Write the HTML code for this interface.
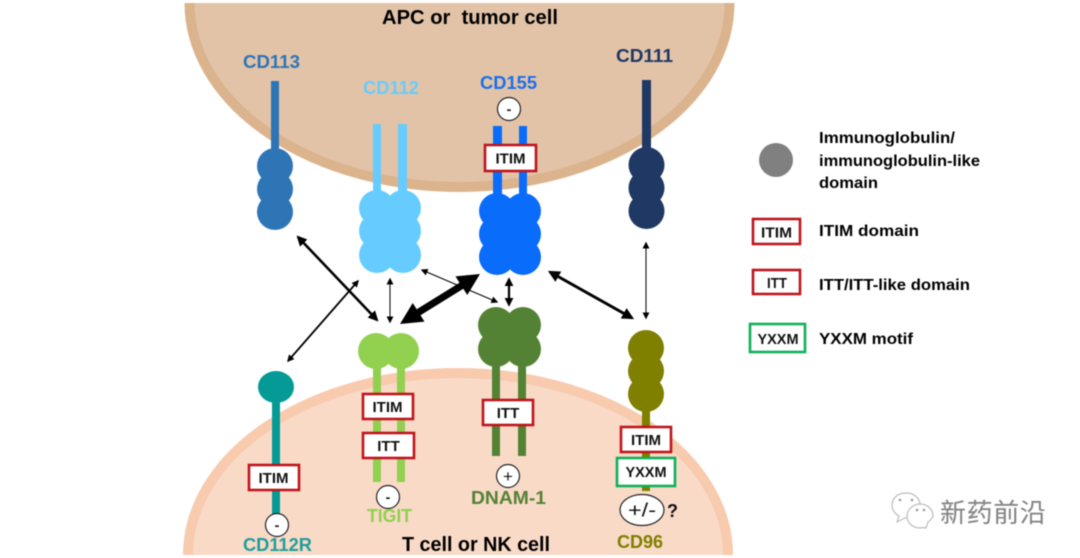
<!DOCTYPE html>
<html lang="en">
<head>
<meta charset="utf-8">
<title>TIGIT / CD96 / DNAM-1 diagram</title>
<style>
html,body{margin:0;padding:0;background:#fff;width:1080px;height:558px;overflow:hidden}
svg{display:block;overflow:hidden;filter:blur(.45px)}
text{font-family:"Liberation Sans","Noto Sans CJK SC",sans-serif;font-weight:700}
.box{fill:#fff;stroke:#C0141C;stroke-width:2.6}
.gbox{fill:#fff;stroke:#10B058;stroke-width:2.6}
.bt{font-size:15px;fill:#111;text-anchor:middle}
.sign{fill:#fff;stroke:#222;stroke-width:1.2}
.lg{font-size:16px;fill:#000}
.lab{font-size:18px}
.title{font-size:20.5px;fill:#000}
</style>
</head>
<body>
<svg width="1080" height="558" viewBox="0 0 1080 558" xmlns="http://www.w3.org/2000/svg">
<defs>
<marker id="a" viewBox="0 0 10 10" refX="8" refY="5" markerWidth="4" markerHeight="4" orient="auto-start-reverse" markerUnits="strokeWidth"><path d="M0,0L10,5L0,10z" fill="#000"/></marker>
<marker id="t" viewBox="0 0 10 10" refX="8" refY="5" markerWidth="7" markerHeight="7" orient="auto-start-reverse" markerUnits="strokeWidth"><path d="M0,0L10,5L0,10z" fill="#000"/></marker>
</defs>

<!-- cells -->
<path d="M189.5,3 A270,184 0 0 0 729.5,3 Z" fill="#E2C3A8"/>
<path d="M189.5,3 A270,184 0 0 0 729.5,3" fill="none" stroke="#DBB48E" stroke-width="10"/>
<path d="M188,555 A270,182 0 0 1 728,555 Z" fill="#F9DAC7"/>
<path d="M188,555 A270,182 0 0 1 728,555" fill="none" stroke="#F8CAAE" stroke-width="10"/>

<!-- CD113 -->
<g fill="#2E75B6">
  <rect x="271" y="81" width="8" height="72"/>
  <circle cx="275" cy="166" r="18"/><circle cx="275" cy="189" r="18"/><circle cx="275" cy="212" r="18"/>
</g>
<!-- CD112 -->
<g fill="#66CCFF">
  <rect x="373" y="124" width="8" height="72"/><rect x="398" y="124" width="9" height="72"/>
  <circle cx="377" cy="208" r="18"/><circle cx="377" cy="231" r="18"/><circle cx="377" cy="255" r="18"/>
  <circle cx="403" cy="208" r="18"/><circle cx="403" cy="231" r="18"/><circle cx="403" cy="255" r="18"/>
</g>
<!-- CD155 -->
<g fill="#0A6CFA">
  <rect x="493" y="126" width="9" height="72"/><rect x="519" y="126" width="8" height="72"/>
  <circle cx="497" cy="211" r="18"/><circle cx="497" cy="234" r="18"/><circle cx="497" cy="257" r="18"/>
  <circle cx="523" cy="211" r="18"/><circle cx="523" cy="234" r="18"/><circle cx="523" cy="257" r="18"/>
</g>
<rect class="box" x="485" y="145" width="51" height="26"/>
<text class="bt" x="510.5" y="163.500">ITIM</text>
<circle class="sign" cx="509" cy="109" r="11.5"/>
<text x="509" y="114" text-anchor="middle" font-size="14" fill="#111">-</text>
<!-- CD111 -->
<g fill="#1F3864">
  <rect x="642" y="80" width="9" height="72"/>
  <circle cx="646.5" cy="165" r="18"/><circle cx="646.5" cy="188" r="18"/><circle cx="646.5" cy="211" r="18"/>
</g>

<!-- CD112R -->
<g fill="#059A96">
  <ellipse cx="276" cy="387" rx="18" ry="16"/>
  <rect x="272" y="395" width="8" height="119"/>
</g>
<rect class="box" x="249" y="465" width="50" height="25"/>
<text class="bt" x="273.5" y="483">ITIM</text>
<circle class="sign" cx="277" cy="525" r="11.5"/>
<text x="277" y="530" text-anchor="middle" font-size="14" fill="#111">-</text>

<!-- TIGIT -->
<g fill="#92D050">
  <rect x="373" y="360" width="8" height="122"/><rect x="397" y="360" width="8" height="122"/>
  <circle cx="376" cy="351" r="18"/><circle cx="401" cy="351" r="18"/>
</g>
<rect class="box" x="363" y="394" width="50" height="25"/>
<text class="bt" x="387.5" y="412">ITIM</text>
<rect class="box" x="363" y="433" width="51" height="25"/>
<text class="bt" x="388.5" y="451">ITT</text>
<circle class="sign" cx="388" cy="497" r="11.5"/>
<text x="388" y="502" text-anchor="middle" font-size="14" fill="#111">-</text>

<!-- DNAM-1 -->
<g fill="#548235">
  <rect x="492" y="355" width="8" height="101"/><rect x="518" y="355" width="8" height="101"/>
  <circle cx="496" cy="325" r="18"/><circle cx="496" cy="349" r="18"/>
  <circle cx="523" cy="325" r="18"/><circle cx="523" cy="349" r="18"/>
</g>
<rect class="box" x="483" y="400" width="50" height="25"/>
<text class="bt" x="508" y="418">ITT</text>
<circle class="sign" cx="508" cy="476" r="11.5"/>
<text x="508" y="482" text-anchor="middle" font-size="17" style="font-weight:400" fill="#111">+</text>

<!-- CD96 -->
<g fill="#7F7F00">
  <rect x="642" y="400" width="8" height="91"/>
  <circle cx="646" cy="348" r="18"/><circle cx="646" cy="371" r="18"/><circle cx="646" cy="394" r="18"/>
</g>
<rect class="box" x="621" y="427" width="50" height="25"/>
<text class="bt" x="646" y="445">ITIM</text>
<rect class="gbox" x="617" y="458" width="58" height="28"/>
<text class="bt" x="646" y="477" textLength="41" lengthAdjust="spacingAndGlyphs">YXXM</text>
<ellipse class="sign" cx="642" cy="510" rx="22" ry="15.5"/>
<text x="642" y="516.500" text-anchor="middle" font-size="19" style="font-weight:400" fill="#111" textLength="28" lengthAdjust="spacingAndGlyphs">+/-</text>
<text x="667" y="517" font-size="18" fill="#111">?</text>

<!-- connectors -->
<g stroke="#000" fill="none">
  <line x1="298" y1="237" x2="377" y2="320" stroke-width="2.6" marker-start="url(#a)" marker-end="url(#a)"/>
  <line x1="288" y1="361" x2="358" y2="281" stroke-width="1.8" marker-start="url(#a)" marker-end="url(#a)"/>
  <line x1="390" y1="279" x2="390" y2="322" stroke-width="1" marker-start="url(#t)" marker-end="url(#t)"/>
  <line x1="422" y1="270" x2="497" y2="302" stroke-width="1" marker-start="url(#t)" marker-end="url(#t)"/>
  <line x1="509" y1="279" x2="509" y2="305" stroke-width="2.2" marker-start="url(#a)" marker-end="url(#a)"/>
  <line x1="550" y1="272" x2="632" y2="318" stroke-width="3" marker-start="url(#a)" marker-end="url(#a)"/>
  <line x1="646" y1="243" x2="646" y2="318" stroke-width="1" marker-start="url(#t)" marker-end="url(#t)"/>
</g>
<polygon fill="#000" points="400,324 412.7,303 416.7,309.3 459.5,282.7 455.5,276.4 480,274 467.3,295 463.3,288.7 420.5,315.3 424.5,321.6"/>

<!-- labels -->
<text class="title" x="382" y="24" textLength="176" lengthAdjust="spacingAndGlyphs" xml:space="preserve">APC or  tumor cell</text>
<text class="title" x="402" y="551" textLength="148" lengthAdjust="spacingAndGlyphs">T cell or NK cell</text>
<text class="lab" x="243" y="68" fill="#2E75B6" textLength="57" lengthAdjust="spacingAndGlyphs">CD113</text>
<text class="lab" x="363" y="94" fill="#66CCFF" textLength="56" lengthAdjust="spacingAndGlyphs">CD112</text>
<text class="lab" x="480" y="89" fill="#1A70EA" textLength="57" lengthAdjust="spacingAndGlyphs">CD155</text>
<text class="lab" x="616" y="62" fill="#1F3864" textLength="57" lengthAdjust="spacingAndGlyphs">CD111</text>
<text class="lab" x="243" y="551" fill="#1E9F9B" textLength="69" lengthAdjust="spacingAndGlyphs">CD112R</text>
<text class="lab" x="367" y="522" fill="#92D050" textLength="45" lengthAdjust="spacingAndGlyphs">TIGIT</text>
<text class="lab" x="471" y="504" fill="#548235" textLength="75" lengthAdjust="spacingAndGlyphs">DNAM-1</text>
<text class="lab" x="617" y="548" fill="#7F7F00" textLength="46" lengthAdjust="spacingAndGlyphs">CD96</text>

<!-- legend -->
<circle cx="776" cy="160" r="17" fill="#808080"/>
<text class="lg" x="819" y="143" textLength="136" lengthAdjust="spacingAndGlyphs">Immunoglobulin/</text>
<text class="lg" x="819" y="166" textLength="161" lengthAdjust="spacingAndGlyphs">immunoglobulin-like</text>
<text class="lg" x="819" y="188" textLength="59" lengthAdjust="spacingAndGlyphs">domain</text>
<rect class="box" x="753" y="219" width="47" height="25"/>
<text class="bt" x="776.5" y="237.500" textLength="31" lengthAdjust="spacingAndGlyphs">ITIM</text>
<text class="lg" x="819" y="236" textLength="100" lengthAdjust="spacingAndGlyphs">ITIM domain</text>
<rect class="box" x="753" y="270" width="47" height="24"/>
<text class="bt" x="777" y="288" textLength="20" lengthAdjust="spacingAndGlyphs">ITT</text>
<text class="lg" x="819" y="290" textLength="151" lengthAdjust="spacingAndGlyphs">ITT/ITT-like domain</text>
<rect class="gbox" x="750" y="324" width="55" height="28"/>
<text class="bt" x="778" y="344" textLength="41" lengthAdjust="spacingAndGlyphs">YXXM</text>
<text class="lg" x="819" y="344" textLength="94" lengthAdjust="spacingAndGlyphs">YXXM motif</text>

<!-- watermark -->
<g fill="#fff" stroke="#BDBDBD" stroke-width="1.2">
  <path d="M899,516 L897,522 L905,518 C914,518 920,512 920,505 C920,498 914,493 906,493 C898,493 892,498 892,505 C892,510 895,514 899,516Z"/>
  <path d="M926,528 L928,522 C931,520 933,517 933,516 C933,509 927,504 920,504 C913,504 907,510 907,516 C907,523 913,528 920,528 C922,528 924,527 926,528Z"/>
</g>
<g fill="#999">
  <circle cx="900" cy="500" r="1.3"/><circle cx="912" cy="500" r="1.3"/>
  <circle cx="917" cy="510" r="1.3"/><circle cx="924" cy="510" r="1.3"/>
</g>
<text x="940" y="522" font-size="26" style="font-weight:400;letter-spacing:.6px" fill="#808080" stroke="#B8B8B8" stroke-width=".3">新药前沿</text>
</svg>
</body>
</html>
